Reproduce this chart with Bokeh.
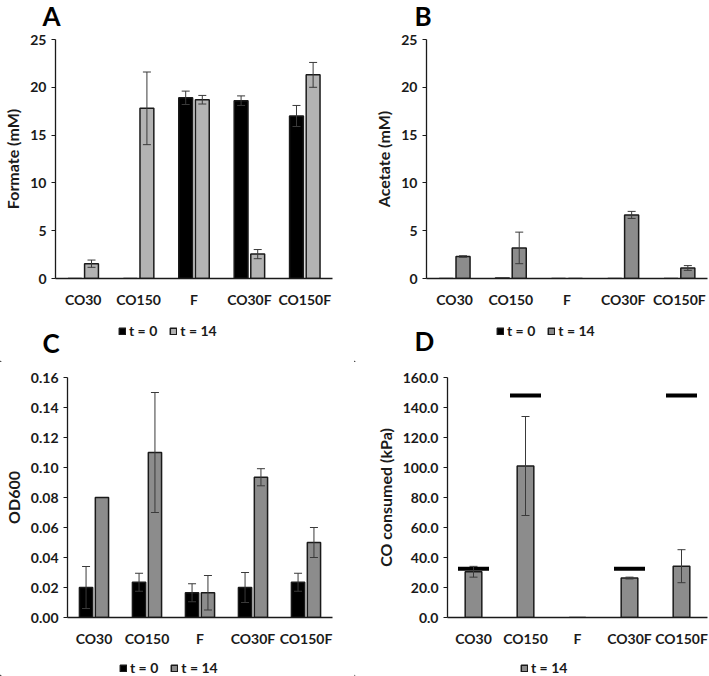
from bokeh.plotting import figure
from bokeh.models import (ColumnDataSource, FactorRange, Range1d, Whisker, TeeHead,
                          Legend, LegendItem, Label, NumeralTickFormatter, FixedTicker)
from bokeh.transform import dodge
from bokeh.layouts import column, row
from bokeh.embed import file_html
from bokeh.resources import INLINE

# ---------------- data ----------------
cats = ["CO30", "CO150", "F", "CO30F", "CO150F"]

formate_t0 = [0, 0, 18.9, 18.6, 17.0]
formate_t0_err = [0, 0, 0.7, 0.5, 1.1]
formate_t14 = [1.55, 17.8, 18.7, 2.55, 21.3]
formate_t14_err = [0.38, 3.8, 0.45, 0.48, 1.3]

acetate_t0 = [0, 0.05, 0, 0, 0]
acetate_t0_err = [0, 0, 0, 0, 0]
acetate_t14 = [2.3, 3.2, 0, 6.65, 1.1]
acetate_t14_err = [0.08, 1.65, 0, 0.37, 0.25]

od_t0 = [0.020, 0.0235, 0.0165, 0.020, 0.0235]
od_t0_err = [0.014, 0.006, 0.006, 0.010, 0.006]
od_t14 = [0.080, 0.110, 0.0165, 0.0935, 0.050]
od_t14_err = [0, 0.040, 0.0115, 0.0057, 0.010]

co_t14 = [30.5, 101.0, 0, 26.3, 34.2]
co_t14_err = [3.6, 33.0, 0, 0.6, 11.0]
co_initial = [32.5, 148.0, float("nan"), 32.5, 148.0]

series_labels = ["t = 0", "t = 14"]

FONT = "Lato"
TXT = "#1a1a1a"
BLACK = "#000000"
LIGHT = "#b3b3b3"
MID = "#8c8c8c"
BAR_LINE = dict(line_color=TXT, line_width=1.5)


def make_chart(w, h, ml, mr, mt, mb, ymax, ystep, fmt, ylabel, series):
    p = figure(width=w, height=h, x_range=FactorRange(factors=cats, range_padding=0),
               y_range=Range1d(0, ymax), output_backend="svg", toolbar_location=None,
               title=None, min_border_left=ml, min_border_right=mr, min_border_top=mt,
               min_border_bottom=mb)
    p.outline_line_color = None
    p.grid.visible = False

    for (vals, errs, color, off, width) in series:
        src = ColumnDataSource(dict(cat=cats, v=vals))
        p.vbar(x=dodge("cat", off, range=p.x_range), top="v", width=width, source=src,
               fill_color=color, **BAR_LINE)
        ec, eu, el = [], [], []
        for c, v, e in zip(cats, vals, errs):
            if e > 0:
                ec.append(c)
                eu.append(v + e)
                el.append(v - e)
        if ec:
            esrc = ColumnDataSource(dict(cat=ec, u=eu, l=el))
            wk = Whisker(base=dodge("cat", off, range=p.x_range), upper="u", lower="l",
                         source=esrc, line_color="#3a3a3a", line_width=1,
                         upper_head=TeeHead(size=8, line_color="#3a3a3a", line_width=1),
                         lower_head=TeeHead(size=8, line_color="#3a3a3a", line_width=1),
                         level="annotation")
            p.add_layout(wk)

    p.yaxis.ticker = FixedTicker(ticks=[i * ystep for i in range(int(round(ymax / ystep)) + 1)])
    p.yaxis.formatter = NumeralTickFormatter(format=fmt)
    p.yaxis.axis_label = ylabel
    p.yaxis.axis_label_standoff = 5
    p.yaxis.axis_label_text_font = FONT
    p.yaxis.axis_label_text_font_style = "bold"
    p.yaxis.axis_label_text_font_size = "16px"
    p.yaxis.axis_label_text_color = TXT
    p.yaxis.minor_tick_line_color = None
    p.yaxis.major_tick_out = 4
    p.yaxis.major_tick_in = 0
    p.yaxis.major_label_standoff = 5
    p.yaxis.major_tick_line_color = TXT
    p.xaxis.major_tick_line_color = None
    p.xaxis.minor_tick_line_color = None
    p.xaxis.major_label_standoff = 6
    for ax in (p.xaxis, p.yaxis):
        ax.axis_line_color = TXT
        ax.axis_line_width = 1.3
        ax.major_label_text_font = FONT
        ax.major_label_text_font_style = "bold"
        ax.major_label_text_font_size = "14px"
        ax.major_label_text_color = TXT
    return p


def make_strip(w, h, letter=None, letter_xy=None, legend=None, legend_xy=None):
    s = figure(width=w, height=h, x_range=Range1d(0, w), y_range=Range1d(0, h),
               output_backend="svg", toolbar_location=None, title=None, min_border=0,
               x_axis_type=None, y_axis_type=None)
    s.outline_line_color = None
    s.grid.visible = False
    if legend:
        items = []
        for lab, color in legend:
            # legend proxy, kept outside the visible range of the strip
            r = s.vbar(x=[-1000], top=[1], width=1, fill_color=color, **BAR_LINE)
            items.append(LegendItem(label=lab, renderers=[r]))
        leg = Legend(items=items, orientation="horizontal", location=legend_xy,
                     glyph_width=8, glyph_height=8, label_standoff=3, spacing=12,
                     padding=0, margin=0, border_line_color=None, background_fill_alpha=0,
                     label_text_font=FONT, label_text_font_style="bold",
                     label_text_font_size="14px", label_text_color=TXT, label_height=14)
        s.add_layout(leg, "center")
    if letter:
        s.add_layout(Label(x=letter_xy[0], y=letter_xy[1], text=letter, text_font=FONT,
                           text_font_style="bold", text_font_size="26px",
                           text_color=BLACK, text_baseline="middle",
                           text_align="left"))
    return s


# row 1: panel letters A, B
sA = make_strip(354, 32, "A", (42, 17))
sB = make_strip(355, 32, "B", (60, 17))

# row 2: charts A, B
pA = make_chart(354, 288, 48, 22, 7, 41, 25, 5, "0", "Formate (mM)",
                [(formate_t0, formate_t0_err, BLACK, -0.15, 0.25),
                 (formate_t14, formate_t14_err, LIGHT, 0.15, 0.25)])
pB = make_chart(355, 288, 72, 2, 6, 42, 25, 5, "0", "Acetate (mM)",
                [(acetate_t0, acetate_t0_err, BLACK, -0.15, 0.25),
                 (acetate_t14, acetate_t14_err, MID, 0.15, 0.25)])

# row 3: legends of A, B and letters C, D
sAC = make_strip(354, 42, "C", (42, 19.5),
                 [(series_labels[0], BLACK), (series_labels[1], LIGHT)], (118, 23))
sBD = make_strip(355, 42, "D", (60, 21.5),
                 [(series_labels[0], BLACK), (series_labels[1], MID)], (142, 23))

# row 4: charts C, D
pC = make_chart(354, 293, 60, 22, 15, 38, 0.16, 0.02, "0.00", "OD600",
                [(od_t0, od_t0_err, BLACK, -0.15, 0.25),
                 (od_t14, od_t14_err, MID, 0.15, 0.25)])
pD = make_chart(355, 293, 93, 2, 15, 38, 160, 20, "0.0", "CO consumed (kPa)",
                [(co_t14, co_t14_err, MID, 0.0, 0.32)])
init_src = ColumnDataSource(dict(cat=cats, v=co_initial))
pD.scatter(x="cat", y="v", source=init_src, marker="dash", size=31, line_width=4,
           line_color=BLACK)

# row 5: legends of C, D
sC = make_strip(354, 21, legend=[(series_labels[0], BLACK), (series_labels[1], MID)],
                legend_xy=(119, 0))
sD = make_strip(355, 21, legend=[(series_labels[1], MID)], legend_xy=(166, 0))

layout = column(row(sA, sB), row(pA, pB), row(sAC, sBD), row(pC, pD), row(sC, sD))
open("out.html", "w").write(file_html(layout, INLINE))
